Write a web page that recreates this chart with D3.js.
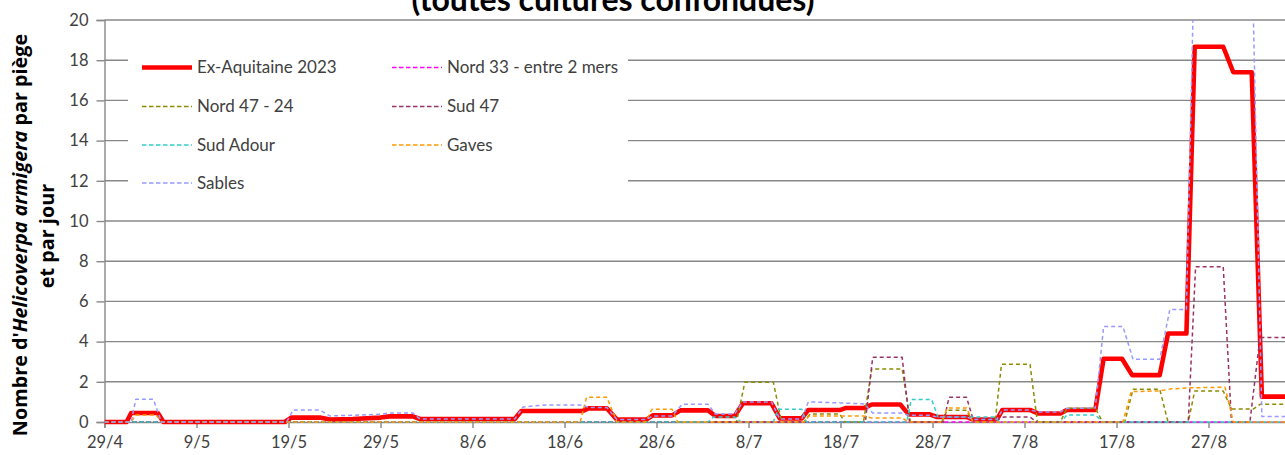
<!DOCTYPE html>
<html><head><meta charset="utf-8">
<script src="https://cdn.jsdelivr.net/npm/d3@7"></script>
<style>
html,body{margin:0;padding:0;background:#fff;}
svg{display:block;}
text{font-family:Lato,"Open Sans",sans-serif;}
</style></head>
<body>
<svg id="chart" width="1285" height="455"></svg>
<script>
// ---- data (x = days since 29/4/2023, y = moths per trap per day) ----
const startDate = new Date(2023, 3, 29);
const xTickDays = [0,10,20,30,40,50,60,70,80,90,100,110,120];
const yTicks = [0,2,4,6,8,10,12,14,16,18,20];
const seriesNames = ["Ex-Aquitaine 2023","Nord 33 - entre 2 mers","Nord 47 - 24","Sud 47","Sud Adour","Gaves","Sables"];

const exAquitaine = [[0,0],[2.4,0],[2.9,0.45],[5.8,0.45],[6.4,0],[19.6,0],[20.3,0.22],[23.4,0.22],[24.5,0.12],[27,0.15],[30,0.22],[31,0.28],[33.5,0.28],[34.3,0.15],[44.6,0.15],[45.3,0.55],[52,0.55],[52.6,0.68],[54.6,0.68],[55.7,0.12],[58.9,0.12],[59.6,0.33],[61.7,0.33],[62.6,0.58],[65.6,0.58],[66.4,0.3],[68.5,0.3],[69.4,0.93],[72.5,0.93],[73.4,0.18],[75.8,0.18],[76.5,0.6],[80,0.6],[80.6,0.7],[82.6,0.7],[83.4,0.87],[86.5,0.87],[87.4,0.38],[89.7,0.38],[90.5,0.25],[93.7,0.25],[94.4,0.12],[97,0.12],[97.6,0.6],[100.6,0.6],[101.5,0.42],[103.9,0.42],[104.6,0.6],[107.7,0.6],[108.6,3.15],[110.6,3.15],[111.7,2.33],[114.7,2.33],[115.6,4.4],[117.6,4.4],[118.5,18.67],[121.6,18.67],[122.7,17.4],[124.7,17.4],[125.8,1.26],[129,1.26]];
const nord33 = [[0,0],[129,0]];
const nord4724 = [[0,0],[68.7,0],[69.6,1.98],[72.7,1.98],[73.6,0],[76,0],[76.7,0.4],[79.9,0.4],[80.5,0],[82.5,0],[83.4,2.64],[86.7,2.64],[87.6,0],[91,0],[91.6,0.58],[93.7,0.58],[94.4,0],[96.8,0],[97.5,2.87],[100.6,2.87],[101.4,0],[103.9,0],[104.6,0.68],[107.7,0.68],[108.5,0],[110.9,0],[111.8,1.63],[114.7,1.63],[115.6,0],[117.8,0],[118.5,1.54],[121.6,1.54],[122.5,0.65],[124.9,0.65],[125.6,0.88],[129,0.88]];
const sud47 = [[0,0],[82.7,0],[83.5,3.22],[86.7,3.22],[87.5,0],[91.2,0],[91.8,1.23],[93.7,1.23],[94.4,0.15],[97.2,0.15],[97.8,0.25],[100.6,0.25],[101.3,0],[117.8,0],[118.6,7.73],[121.6,7.73],[122.5,0],[124.5,0],[125.6,4.2],[129,4.2]];
const sudAdour = [[0,0],[65.6,0],[66.2,0.25],[68.5,0.25],[69.2,0],[72.7,0],[73.2,0.63],[75.8,0.63],[76.3,0],[87.2,0],[87.7,1.12],[89.9,1.12],[90.6,0.25],[96.7,0.25],[97.3,0],[104,0],[104.6,0.35],[107.7,0.35],[108.5,0],[129,0]];
const gaves = [[0,0],[2.9,0],[3.4,0.35],[5.6,0.35],[6.2,0],[51.7,0],[52.4,1.23],[54.6,1.23],[55.7,0],[58.8,0],[59.5,0.63],[61.7,0.63],[62.3,0],[76,0],[76.6,0.3],[82.5,0.3],[83.4,0.2],[86.7,0.2],[87.4,0],[91,0],[91.6,0.7],[93.7,0.7],[94.4,0],[110.7,0],[111.6,1.51],[114.7,1.55],[116,1.65],[118,1.7],[121.8,1.73],[122.7,0],[129,0]];
const sables = [[0,0],[2.9,0],[3.4,1.13],[5.3,1.13],[6.2,0],[19.8,0],[20.5,0.6],[23.4,0.6],[24.5,0.3],[30,0.38],[31,0.45],[33.5,0.45],[34.3,0.15],[44.6,0.15],[45.5,0.75],[48,0.85],[52,0.85],[52.6,0.72],[54.6,0.72],[55.7,0.12],[58.9,0.12],[59.6,0.3],[61.7,0.3],[62.8,0.88],[65.6,0.88],[66.4,0.4],[68.5,0.4],[69.4,1.0],[72.5,1.0],[73.4,0.15],[75.8,0.15],[76.5,1.0],[80,0.95],[82.6,0.9],[83.5,0.45],[86.7,0.45],[87.4,0.33],[89.7,0.33],[90.5,0.25],[93.7,0.25],[94.4,0.13],[97,0.13],[97.6,0.6],[100.6,0.6],[101.5,0.5],[103.9,0.5],[104.6,0.67],[107.7,0.7],[108.6,4.75],[110.7,4.75],[111.8,3.12],[114.7,3.12],[115.8,5.6],[117.6,5.6],[118.5,24],[124.7,24],[125.8,0.27],[129,0.27]];

const seriesData = [exAquitaine, nord33, nord4724, sud47, sudAdour, gaves, sables];
const seriesColors = ["#FF0000","#FF00FF","#8C8C00","#993366","#33CCCC","#FF9900","#9999FF"];

(function draw() {
  const svg = d3.select("#chart");
  const pLeft = 104.5, pTop = 20, pBottom = 422, pRight = 1290;
  const dayToDate = d => new Date(startDate.getTime() + d * 86400000);
  const x = d3.scaleTime().domain([dayToDate(0), dayToDate(129)]).range([pLeft, pLeft + 9.2 * 129]);
  const y = d3.scaleLinear().domain([0, 20]).range([pBottom, pTop]);
  const gridColor = "#888888";
  const textColor = "#404040";

  // gridlines
  svg.append("g").selectAll("line").data(yTicks.filter(t => t > 0)).join("line")
    .attr("x1", pLeft).attr("x2", pRight)
    .attr("y1", d => y(d)).attr("y2", d => y(d))
    .attr("stroke", gridColor).attr("stroke-width", 1.4);

  // legend background (hides gridlines)
  const legend = svg.append("g");
  legend.append("rect").attr("x", 128).attr("y", 36).attr("width", 500).attr("height", 163).attr("fill", "#fff");

  // y axis
  const yAxis = svg.append("g").attr("transform", `translate(${pLeft},0)`)
    .call(d3.axisLeft(y).tickValues(yTicks).tickSize(8).tickPadding(8));
  yAxis.select(".domain").attr("stroke", gridColor).attr("stroke-width", 1.4);
  yAxis.selectAll(".tick line").attr("stroke", gridColor).attr("stroke-width", 1.4);
  yAxis.selectAll(".tick text").attr("fill", textColor).style("font-size", "16.5px").style("font-family", "Lato");

  // x axis
  const xAxis = svg.append("g").attr("transform", `translate(0,${pBottom})`)
    .call(d3.axisBottom(x).tickValues(xTickDays.map(dayToDate)).tickSize(6).tickPadding(8)
      .tickFormat(d3.timeFormat("%-d/%-m")));
  xAxis.select(".domain").attr("stroke", gridColor).attr("stroke-width", 1.4);
  xAxis.selectAll(".tick line").attr("stroke", gridColor).attr("stroke-width", 1.4);
  xAxis.selectAll(".tick text").attr("fill", textColor).style("font-size", "16.5px").style("font-family", "Lato");

  // clip
  svg.append("clipPath").attr("id", "plotclip").append("rect")
    .attr("x", pLeft).attr("y", pTop).attr("width", pRight - pLeft).attr("height", pBottom - pTop + 4);

  const line = d3.line().x(d => x(dayToDate(d[0]))).y(d => y(d[1]));
  const plot = svg.append("g").attr("clip-path", "url(#plotclip)");
  seriesData.forEach((data, i) => {
    const p = plot.append("path").datum(data).attr("d", line).attr("fill", "none")
      .attr("stroke", seriesColors[i]).attr("stroke-linejoin", "round");
    if (i === 0) p.attr("stroke-width", 4.6);
    else p.attr("stroke-width", 1.5).attr("stroke-dasharray", "4,3");
  });

  // legend items
  const legPos = [[142,67.5],[392,67.5],[142,106.5],[392,106.5],[142,145],[392,145],[142,183]];
  seriesNames.forEach((name, i) => {
    const [lx, ly] = legPos[i];
    const l = legend.append("line").attr("x1", lx).attr("x2", lx + 50).attr("y1", ly).attr("y2", ly)
      .attr("stroke", seriesColors[i]);
    if (i === 0) l.attr("stroke-width", 4.6);
    else l.attr("stroke-width", 1.5).attr("stroke-dasharray", "4.5,2.5");
    legend.append("text").attr("x", lx + 55).attr("y", ly).attr("dy", "0.35em")
      .attr("fill", textColor).style("font-size", "17px").text(name);
  });

  // title (partially cut at top, as in the reference)
  svg.append("text").attr("x", 613).attr("y", 10.5).attr("text-anchor", "middle")
    .style("font-size", "32px").style("font-weight", "bold").attr("fill", "#000")
    .text("(toutes cultures confondues)");

  // y axis title
  const yt = svg.append("text").attr("transform", "translate(27,235) rotate(-90)")
    .attr("text-anchor", "middle").style("font-family", "'Open Sans'")
    .style("font-size", "19.8px").style("font-weight", "bold").attr("fill", "#000");
  yt.append("tspan").text("Nombre d'");
  yt.append("tspan").style("font-style", "italic").text("Helicoverpa armigera");
  yt.append("tspan").text(" par piège");
  svg.append("text").attr("transform", "translate(54,236) rotate(-90)")
    .attr("text-anchor", "middle").style("font-family", "'Open Sans'")
    .style("font-size", "19.8px").style("font-weight", "bold").attr("fill", "#000")
    .text("et par jour");
})();
</script>
</body></html>
